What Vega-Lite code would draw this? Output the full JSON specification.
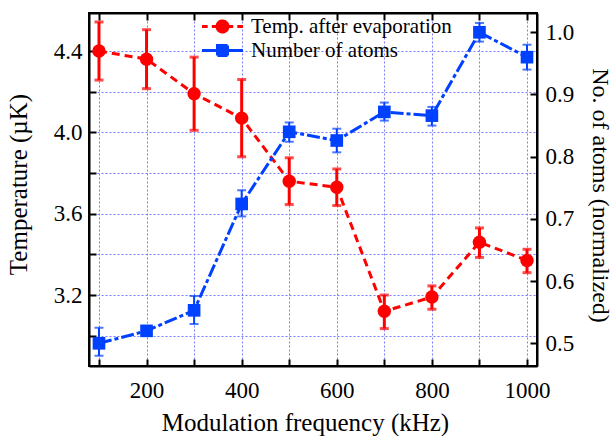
{
  "$schema": "https://vega.github.io/schema/vega-lite/v6.json",
  "width": 448,
  "height": 353,
  "autosize": {"type": "none"},
  "padding": {"left": 89, "top": 13, "right": 77, "bottom": 70},
  "background": "white",
  "datasets": {
    "temp": [
      {"freq": 100, "T": 4.40, "lo": 4.257, "hi": 4.543},
      {"freq": 200, "T": 4.36, "lo": 4.215, "hi": 4.505},
      {"freq": 300, "T": 4.19, "lo": 4.01, "hi": 4.37},
      {"freq": 400, "T": 4.07, "lo": 3.88, "hi": 4.26},
      {"freq": 500, "T": 3.76, "lo": 3.645, "hi": 3.875},
      {"freq": 600, "T": 3.73, "lo": 3.64, "hi": 3.82},
      {"freq": 700, "T": 3.12, "lo": 3.035, "hi": 3.2},
      {"freq": 800, "T": 3.19, "lo": 3.13, "hi": 3.245},
      {"freq": 900, "T": 3.46, "lo": 3.385, "hi": 3.53},
      {"freq": 1000, "T": 3.37, "lo": 3.31, "hi": 3.425}
    ],
    "atoms": [
      {"freq": 100, "N": 0.50, "lo": 0.48, "hi": 0.525},
      {"freq": 200, "N": 0.52, "lo": 0.513, "hi": 0.527},
      {"freq": 300, "N": 0.553, "lo": 0.531, "hi": 0.576},
      {"freq": 400, "N": 0.724, "lo": 0.704, "hi": 0.746},
      {"freq": 500, "N": 0.84, "lo": 0.824, "hi": 0.855},
      {"freq": 600, "N": 0.826, "lo": 0.807, "hi": 0.845},
      {"freq": 700, "N": 0.872, "lo": 0.858, "hi": 0.887},
      {"freq": 800, "N": 0.866, "lo": 0.85, "hi": 0.88},
      {"freq": 900, "N": 1.0, "lo": 0.985, "hi": 1.015},
      {"freq": 1000, "N": 0.96, "lo": 0.94, "hi": 0.98}
    ]
  },
  "config": {
    "font": "Liberation Serif",
    "view": {"stroke": "black", "strokeWidth": 2},
    "axis": {
      "domainColor": "black",
      "domainWidth": 2,
      "tickColor": "black",
      "tickWidth": 2,
      "tickSize": -7,
      "labelFont": "Liberation Serif",
      "labelFontSize": 23,
      "labelColor": "black",
      "titleFont": "Liberation Serif",
      "titleFontSize": 24,
      "titleFontWeight": "normal",
      "titleColor": "black",
      "gridColor": "#7a7aff",
      "gridDash": [2, 2],
      "gridWidth": 1,
      "gridOpacity": 1
    }
  },
  "layer": [
    {
      "data": {"name": "temp"},
      "encoding": {
        "x": {
          "field": "freq",
          "type": "quantitative",
          "title": "Modulation frequency (kHz)",
          "scale": {"domain": [79, 1021], "nice": false, "zero": false},
          "axis": {
            "orient": "bottom",
            "values": [100, 200, 300, 400, 500, 600, 700, 800, 900, 1000],
            "labelExpr": "datum.value % 200 === 0 ? format(datum.value, 'd') : ''",
            "grid": true,
            "labelPadding": 20,
            "titleFontSize": 25,
            "titleX": 216,
            "titleY": 64,
            "titleBaseline": "alphabetic"
          }
        }
      },
      "layer": [
        {
          "mark": {"type": "line", "strokeDash": [8, 5], "strokeWidth": 3},
          "encoding": {
            "y": {
              "field": "T",
              "type": "quantitative",
              "title": "Temperature (µK)",
              "scale": {"domain": [2.851, 4.587], "nice": false, "zero": false},
              "axis": {
                "orient": "left",
                "values": [3.0, 3.2, 3.4, 3.6, 3.8, 4.0, 4.2, 4.4],
                "labelExpr": "round(datum.value * 10) % 4 === 0 ? format(datum.value, '.1f') : ''",
                "grid": true,
                "labelPadding": 14,
                "titlePadding": 22,
                "titleFontSize": 25,
                "titleY": 171
              }
            },
            "color": {
              "datum": "Temp. after evaporation",
              "scale": {
                "domain": ["Temp. after evaporation", "Number of atoms"],
                "range": ["#ff0000", "#0040ff"]
              },
              "legend": {
                "orient": "none",
                "legendX": 122,
                "legendY": 2,
                "title": null,
                "symbolSize": 400,
                "symbolStrokeWidth": 3,
                "labelFont": "Liberation Serif",
                "labelFontSize": 21,
                "labelColor": "black",
                "labelOffset": 17,
                "labelLimit": 0,
                "rowPadding": 1,
                "encode": {
                  "symbols": {
                    "update": {
                      "shape": {"signal": "datum.value === 'Number of atoms' ? 'M-2.05,0H2.05M-0.5,-0.5H0.5V0.5H-0.5Z' : 'M-2.05,0H-1.48M-1.07,0H1.07M1.48,0H2.05M0.55,0A0.55,0.55,0,1,1,-0.55,0A0.55,0.55,0,1,1,0.55,0Z'"},
                      "fill": {"signal": "datum.value === 'Number of atoms' ? '#0040ff' : '#ff0000'"},
                      "stroke": {"signal": "datum.value === 'Number of atoms' ? '#0040ff' : '#ff0000'"},
                      "strokeDash": {"value": [1, 0]},
                      "opacity": {"value": 1}
                    }
                  }
                }
              }
            }
          }
        },
        {
          "mark": {
            "type": "errorbar",
            "color": "#ff0000",
            "ticks": {"size": 9, "thickness": 3},
            "rule": {"strokeWidth": 3}
          },
          "encoding": {
            "y": {"field": "lo", "type": "quantitative", "title": "Temperature (µK)"},
            "y2": {"field": "hi"}
          }
        },
        {
          "mark": {"type": "point", "shape": "circle", "filled": true, "size": 180, "color": "#ff0000", "opacity": 1},
          "encoding": {
            "y": {"field": "T", "type": "quantitative", "title": "Temperature (µK)"}
          }
        }
      ]
    },
    {
      "data": {"name": "atoms"},
      "encoding": {
        "x": {
          "field": "freq",
          "type": "quantitative",
          "title": null,
          "scale": {"domain": [79, 1021], "nice": false, "zero": false},
          "axis": {
            "orient": "top",
            "values": [100, 200, 300, 400, 500, 600, 700, 800, 900, 1000],
            "labels": false,
            "grid": false
          }
        }
      },
      "layer": [
        {
          "mark": {"type": "line", "strokeDash": [13, 3, 4, 3], "strokeWidth": 3},
          "encoding": {
            "y": {
              "field": "N",
              "type": "quantitative",
              "title": "No. of atoms (normalized)",
              "scale": {"domain": [0.4635, 1.031], "nice": false, "zero": false},
              "axis": {
                "orient": "right",
                "values": [0.5, 0.6, 0.7, 0.8, 0.9, 1.0],
                "format": ".1f",
                "grid": false,
                "labelPadding": 15,
                "titlePadding": 14,
                "titleY": 182
              }
            },
            "color": {"datum": "Number of atoms"}
          }
        },
        {
          "mark": {
            "type": "errorbar",
            "color": "#0040ff",
            "ticks": {"size": 9, "thickness": 2},
            "rule": {"strokeWidth": 2}
          },
          "encoding": {
            "y": {"field": "lo", "type": "quantitative", "title": "No. of atoms (normalized)"},
            "y2": {"field": "hi"}
          }
        },
        {
          "mark": {"type": "square", "filled": true, "size": 160, "color": "#0040ff", "opacity": 1},
          "encoding": {
            "y": {"field": "N", "type": "quantitative", "title": "No. of atoms (normalized)"}
          }
        }
      ]
    }
  ],
  "resolve": {"scale": {"y": "independent"}, "axis": {"x": "independent"}}
}
